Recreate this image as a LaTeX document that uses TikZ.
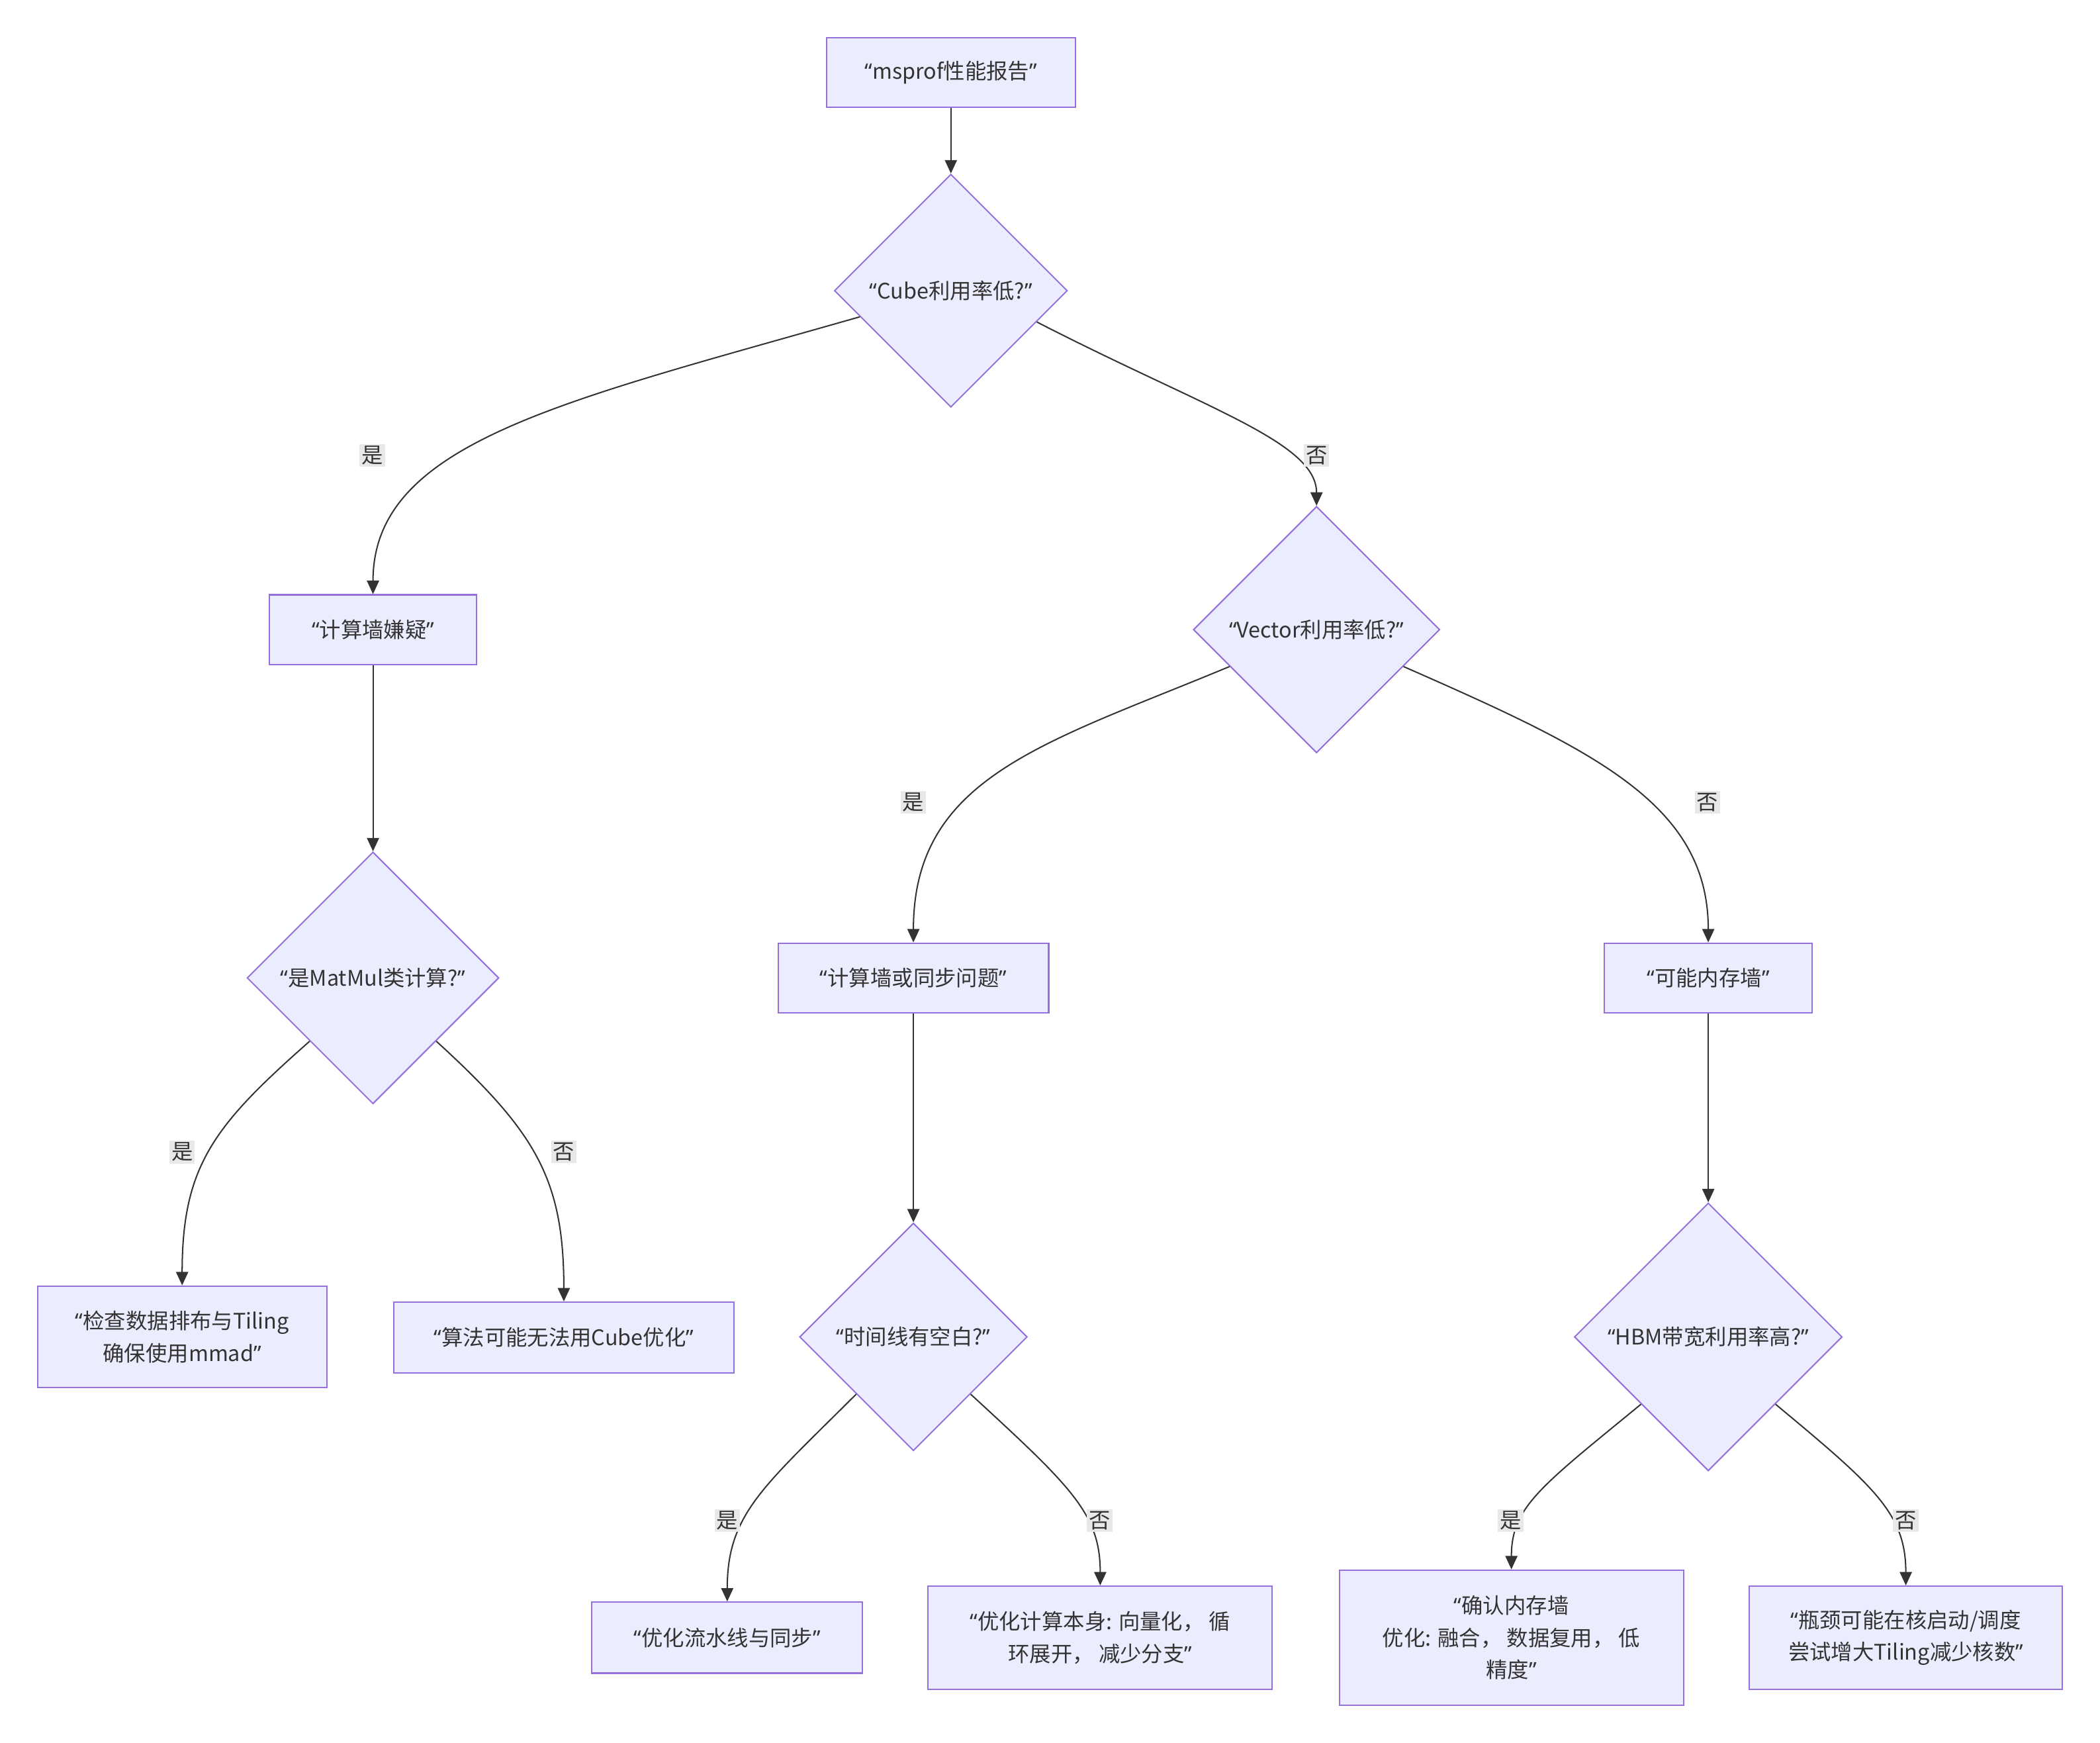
\documentclass[tikz,border=0pt]{standalone}
\usepackage{fontspec}
\setmainfont{Noto Sans CJK SC}
\newfontfamily\latinq{Noto Sans}
\usetikzlibrary{arrows.meta,shapes.geometric}
\definecolor{nodefill}{HTML}{ECECFF}
\definecolor{nodeline}{HTML}{9370DB}
\definecolor{ink}{HTML}{333333}
\definecolor{lblbg}{HTML}{E8E8E8}
\newcommand\qo{{\latinq “}}
\newcommand\qc{{\latinq ”}}
\begin{document}
\begin{tikzpicture}[x=1pt,y=-1pt,
  box/.style={draw=nodeline, fill=nodefill, line width=1pt, text=ink,
    font=\fontsize{16}{24}\selectfont, align=center, inner sep=0pt},
  dia/.style={diamond, aspect=1, draw=nodeline, fill=nodefill, line width=1pt,
    text=ink, font=\fontsize{16}{24}\selectfont, inner sep=0pt},
  edge/.style={draw=ink, line width=1pt, -{Triangle[length=10pt,width=9pt]}},
  lbl/.style={fill=lblbg, text=ink, font=\fontsize{16}{20}\selectfont, inner sep=1.5pt}]
\fill[white] (0,0) rectangle (1568,1301);
\useasboundingbox (0,0) rectangle (1568,1301);

% nodes
\node[box, minimum width=186pt, minimum height=52pt] (A) at (710,54) {\qo msprof性能报告\qc};
\node[dia, minimum width=174pt, minimum height=174pt] (B) at (710,217) {\qo Cube利用率低?\qc};
\node[box, minimum width=155pt, minimum height=52pt] (C) at (278.5,470) {\qo 计算墙嫌疑\qc};
\node[dia, minimum width=184pt, minimum height=184pt] (D) at (983,470) {\qo Vector利用率低?\qc};
\node[dia, minimum width=188pt, minimum height=188pt] (E) at (278.5,730) {\qo 是MatMul类计算?\qc};
\node[box, minimum width=202pt, minimum height=52pt] (F) at (682,730) {\qo 计算墙或同步问题\qc};
\node[box, minimum width=155pt, minimum height=52pt] (G) at (1275.5,730) {\qo 可能内存墙\qc};
\node[box, minimum width=216pt, minimum height=76pt] (H) at (136,998) {\qo 检查数据排布与Tiling\\确保使用mmad\qc};
\node[box, minimum width=254pt, minimum height=53pt] (I) at (421,998.5) {\qo 算法可能无法用Cube优化\qc};
\node[dia, minimum width=170pt, minimum height=170pt] (J) at (682,998) {\qo 时间线有空白?\qc};
\node[dia, minimum width=200pt, minimum height=200pt] (K) at (1275.5,998) {\qo HBM带宽利用率高?\qc};
\node[box, minimum width=202pt, minimum height=53pt] (L) at (543,1222.5) {\qo 优化流水线与同步\qc};
\node[box, minimum width=257pt, minimum height=77pt] (M) at (821.5,1222.5) {\qo 优化计算本身: 向量化， 循\\环展开， 减少分支\qc};
\node[box, minimum width=257pt, minimum height=101pt] (N) at (1128.5,1222.5) {\qo 确认内存墙\\优化: 融合， 数据复用， 低\\精度\qc};
\node[box, minimum width=234pt, minimum height=77pt] (O) at (1423,1222.5) {\qo 瓶颈可能在核启动/调度\\尝试增大Tiling减少核数\qc};

% edges
\draw[edge] (A) -- (B);
\draw[edge] (B.196) .. controls (420,300) and (278.5,330) .. (C.north);
\draw[edge] (B.340) .. controls (900,305) and (983,330) .. (D.north);
\draw[edge] (C) -- (E);
\draw[edge] (D.203) .. controls (780,555) and (682,580) .. (F.north);
\draw[edge] (D.337) .. controls (1190,560) and (1275.5,600) .. (G.north);
\draw[edge] (E.225) .. controls (160,840) and (136,870) .. (H.north);
\draw[edge] (E.315) .. controls (400,845) and (421,880) .. (I.north);
\draw[edge] (F) -- (J);
\draw[edge] (G) -- (K);
\draw[edge] (J.225) .. controls (570,1110) and (543,1130) .. (L.north);
\draw[edge] (J.315) .. controls (800,1110) and (821.5,1130) .. (M.north);
\draw[edge] (K.225) .. controls (1150,1110) and (1128.5,1125) .. (N.north);
\draw[edge] (K.315) .. controls (1400,1110) and (1423,1130) .. (O.north);

% edge labels
\node[lbl] (l1) at (278,340) {是};
\node[lbl] (l2) at (983,340) {否};
\node[lbl] (l3) at (682,599) {是};
\node[lbl] (l4) at (1275,599) {否};
\node[lbl] (l5) at (136,860) {是};
\node[lbl] (l6) at (421,860) {否};
\node[lbl] (l7) at (543,1135) {是};
\node[lbl] (l8) at (821,1135) {否};
\node[lbl] (l9) at (1128,1135) {是};
\node[lbl] (l10) at (1423,1135) {否};
\end{tikzpicture}
\end{document}
